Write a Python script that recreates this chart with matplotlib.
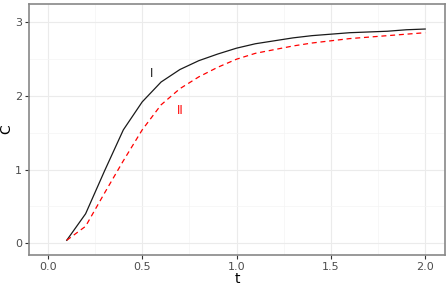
import matplotlib
matplotlib.use("Agg")
import matplotlib.pyplot as plt

t = [0.1, 0.2, 0.3, 0.4, 0.5, 0.6, 0.7, 0.8, 0.9, 1.0,
     1.1, 1.2, 1.3, 1.4, 1.5, 1.6, 1.7, 1.8, 1.9, 2.0]
c_I = [0.04, 0.40, 0.98, 1.54, 1.92, 2.19, 2.36, 2.48, 2.57, 2.65,
       2.71, 2.75, 2.79, 2.82, 2.84, 2.86, 2.87, 2.88, 2.90, 2.91]
c_II = [0.04, 0.23, 0.68, 1.12, 1.54, 1.88, 2.10, 2.26, 2.39, 2.50,
        2.58, 2.63, 2.68, 2.72, 2.75, 2.78, 2.80, 2.82, 2.84, 2.86]
x_ticks = [0.0, 0.5, 1.0, 1.5, 2.0]
x_labels = ["0.0", "0.5", "1.0", "1.5", "2.0"]
y_ticks = [0, 1, 2, 3]
y_labels = ["0", "1", "2", "3"]
labels = ["I", "II"]
label_pos = [(0.55, 2.30), (0.70, 1.80)]

fig = plt.figure(figsize=(4.48, 2.88), dpi=100)
ax = fig.add_axes([29/448, 1-255/288, (445-29)/448, (255-4)/288])

ax.plot(t, c_I, color="#1a1a1a", lw=0.9)
ax.plot(t, c_II, color="red", lw=0.9, ls=(0, (4, 3)))
ax.text(*label_pos[0], labels[0], color="#1a1a1a", fontsize=8.5, ha="center", va="center")
ax.text(*label_pos[1], labels[1], color="red", fontsize=8.5, ha="center", va="center")

ax.set_xlim(-0.1, 2.105)
ax.set_ylim(-0.16, 3.25)
ax.set_xticks(x_ticks)
ax.set_xticklabels(x_labels)
ax.set_yticks(y_ticks)
ax.set_yticklabels(y_labels)
ax.set_xticks([0.25, 0.75, 1.25, 1.75], minor=True)
ax.set_yticks([0.5, 1.5, 2.5], minor=True)
ax.grid(True, which="major", color="#ebebeb", lw=0.8)
ax.grid(True, which="minor", color="#f4f4f4", lw=0.5)
ax.set_axisbelow(True)
ax.tick_params(which="major", length=3, width=0.8, color="#333333",
               labelcolor="#4d4d4d", labelsize=8, pad=2)
ax.tick_params(which="minor", length=0)
for s in ax.spines.values():
    s.set_color("#888888")
    s.set_linewidth(1.2)
ax.set_xlabel("t", fontsize=10, labelpad=0)
ax.set_ylabel("C", fontsize=10, labelpad=1)

fig.savefig("out.png", dpi=100)
